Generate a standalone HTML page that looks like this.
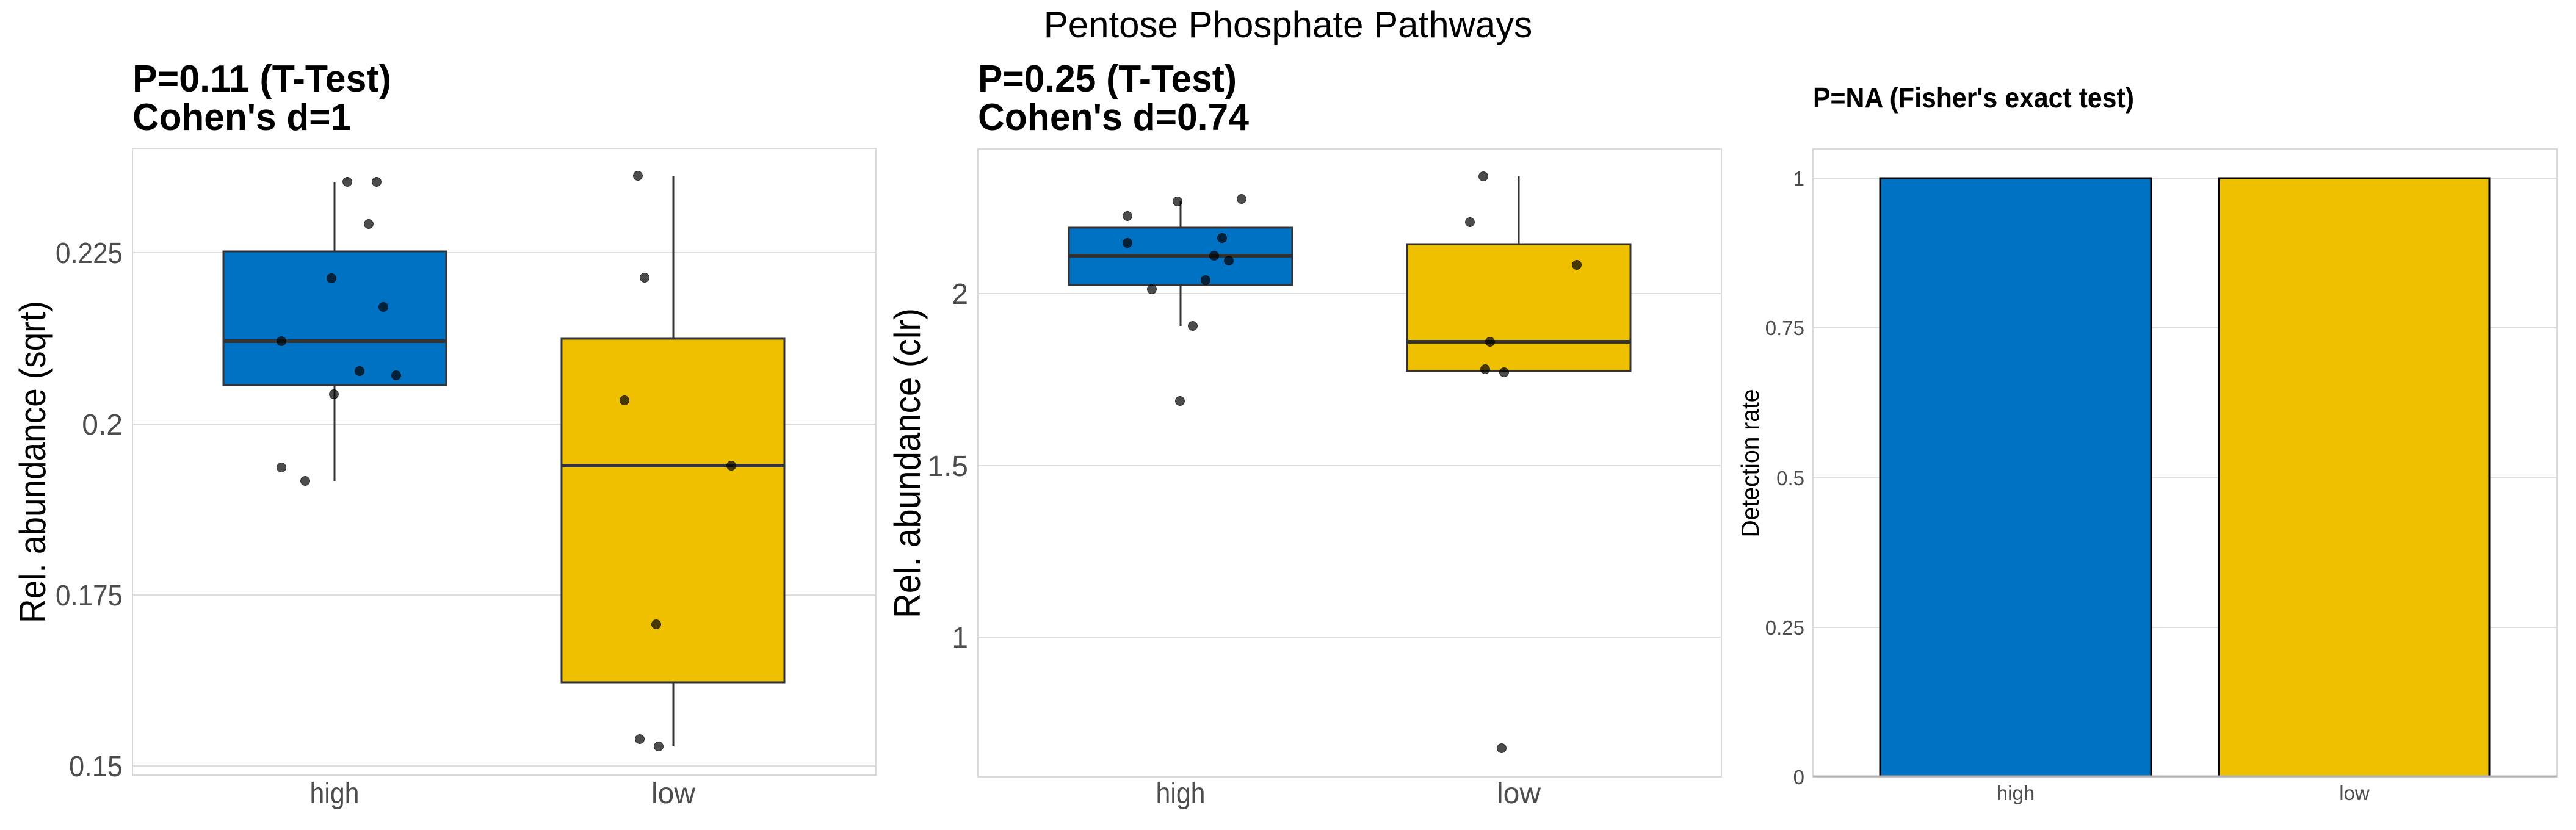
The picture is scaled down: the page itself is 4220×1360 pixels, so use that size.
<!DOCTYPE html>
<html><head><meta charset="utf-8"><style>
html,body{margin:0;padding:0;background:#fff;}
svg{display:block;}
text{font-family:"Liberation Sans",Arial,sans-serif;}
</style></head><body>
<svg width="4220" height="1360" viewBox="0 0 4220 1360" xmlns="http://www.w3.org/2000/svg">
<rect width="4220" height="1360" fill="#fff"/>
<text x="2110" y="61" font-size="60" text-anchor="middle" fill="#000">Pentose Phosphate Pathways</text>

<!-- Panel 1 -->
<g>
<text x="217" y="150" font-size="62" font-weight="bold" textLength="424" lengthAdjust="spacingAndGlyphs">P=0.11 (T-Test)</text>
<text x="217" y="213" font-size="62" font-weight="bold" textLength="358" lengthAdjust="spacingAndGlyphs">Cohen's d=1</text>
<rect x="217" y="243" width="1218" height="1027" fill="none" stroke="#d9d9d9" stroke-width="2"/>
<g stroke="#dedede" stroke-width="2">
<line x1="217" x2="1435" y1="414" y2="414"/><line x1="217" x2="1435" y1="695" y2="695"/>
<line x1="217" x2="1435" y1="975" y2="975"/><line x1="217" x2="1435" y1="1255" y2="1255"/>
</g>
<g font-size="48" fill="#4d4d4d" text-anchor="end">
<text x="201" y="431" textLength="110" lengthAdjust="spacingAndGlyphs">0.225</text><text x="201" y="712">0.2</text>
<text x="201" y="992" textLength="110" lengthAdjust="spacingAndGlyphs">0.175</text><text x="201" y="1272" textLength="88" lengthAdjust="spacingAndGlyphs">0.15</text>
</g>
<text transform="translate(74,757) rotate(-90)" font-size="60" text-anchor="middle" textLength="528" lengthAdjust="spacingAndGlyphs">Rel. abundance (sqrt)</text>
<g stroke="#333" stroke-width="3">
<line x1="548" x2="548" y1="298" y2="788"/><line x1="1103" x2="1103" y1="288" y2="1223"/>
</g>
<rect x="366" y="412" width="365" height="219" fill="#0072c4" stroke="#333" stroke-width="3"/>
<line x1="366" x2="731" y1="559" y2="559" stroke="#333" stroke-width="6"/>
<rect x="920" y="555" width="365" height="563" fill="#efc000" stroke="#333" stroke-width="3"/>
<line x1="920" x2="1285" y1="763" y2="763" stroke="#333" stroke-width="6"/>
<g fill="#000" fill-opacity="0.7" stroke="#000" stroke-opacity="0.7" stroke-width="1">
<circle cx="569" cy="298" r="7.5"/><circle cx="617" cy="298" r="7.5"/><circle cx="604" cy="367" r="7.5"/>
<circle cx="543" cy="456" r="7.5"/><circle cx="628" cy="503" r="7.5"/><circle cx="461" cy="559" r="7.5"/>
<circle cx="589" cy="608" r="7.5"/><circle cx="649" cy="615" r="7.5"/><circle cx="547" cy="646" r="7.5"/>
<circle cx="461" cy="766" r="7.5"/><circle cx="500" cy="788" r="7.5"/>
<circle cx="1045" cy="288" r="7.5"/><circle cx="1056" cy="455" r="7.5"/><circle cx="1023" cy="656" r="7.5"/>
<circle cx="1198" cy="763" r="7.5"/><circle cx="1075" cy="1023" r="7.5"/><circle cx="1048" cy="1211" r="7.5"/>
<circle cx="1079" cy="1223" r="7.5"/>
</g>
<g font-size="48" fill="#4d4d4d" text-anchor="middle">
<text x="548" y="1316" textLength="81" lengthAdjust="spacingAndGlyphs">high</text><text x="1103" y="1316">low</text>
</g>
</g>

<!-- Panel 2 -->
<g>
<text x="1602" y="150" font-size="62" font-weight="bold" textLength="424" lengthAdjust="spacingAndGlyphs">P=0.25 (T-Test)</text>
<text x="1602" y="213" font-size="62" font-weight="bold" textLength="444" lengthAdjust="spacingAndGlyphs">Cohen's d=0.74</text>
<rect x="1602" y="244" width="1218" height="1029" fill="none" stroke="#d9d9d9" stroke-width="2"/>
<g stroke="#dedede" stroke-width="2">
<line x1="1602" x2="2820" y1="481" y2="481"/><line x1="1602" x2="2820" y1="763" y2="763"/>
<line x1="1602" x2="2820" y1="1044" y2="1044"/>
</g>
<g font-size="48" fill="#4d4d4d" text-anchor="end">
<text x="1586" y="498">2</text><text x="1586" y="780">1.5</text><text x="1586" y="1061">1</text>
</g>
<text transform="translate(1507,759) rotate(-90)" font-size="60" text-anchor="middle" textLength="508" lengthAdjust="spacingAndGlyphs">Rel. abundance (clr)</text>
<g stroke="#333" stroke-width="3">
<line x1="1934" x2="1934" y1="330" y2="534"/><line x1="2488" x2="2488" y1="289" y2="400"/>
</g>
<rect x="1751" y="373" width="366" height="94" fill="#0072c4" stroke="#333" stroke-width="3"/>
<line x1="1751" x2="2117" y1="419" y2="419" stroke="#333" stroke-width="6"/>
<rect x="2305" y="400" width="366" height="208" fill="#efc000" stroke="#333" stroke-width="3"/>
<line x1="2305" x2="2671" y1="560" y2="560" stroke="#333" stroke-width="6"/>
<g fill="#000" fill-opacity="0.7" stroke="#000" stroke-opacity="0.7" stroke-width="1">
<circle cx="1847" cy="354" r="7.5"/><circle cx="1929" cy="330" r="7.5"/><circle cx="2034" cy="326" r="7.5"/>
<circle cx="1847" cy="398" r="7.5"/><circle cx="2002" cy="390" r="7.5"/><circle cx="1989" cy="419" r="7.5"/>
<circle cx="2013" cy="427" r="7.5"/><circle cx="1975" cy="459" r="7.5"/><circle cx="1887" cy="474" r="7.5"/>
<circle cx="1954" cy="534" r="7.5"/><circle cx="1933" cy="657" r="7.5"/>
<circle cx="2430" cy="289" r="7.5"/><circle cx="2408" cy="364" r="7.5"/><circle cx="2583" cy="434" r="7.5"/>
<circle cx="2441" cy="560" r="7.5"/><circle cx="2433" cy="605" r="7.5"/><circle cx="2464" cy="610" r="7.5"/>
<circle cx="2460" cy="1226" r="7.5"/>
</g>
<g font-size="48" fill="#4d4d4d" text-anchor="middle">
<text x="1934" y="1316" textLength="81" lengthAdjust="spacingAndGlyphs">high</text><text x="2488" y="1316">low</text>
</g>
</g>

<!-- Panel 3 -->
<g>
<text x="2970" y="176" font-size="46" font-weight="bold" textLength="526" lengthAdjust="spacingAndGlyphs">P=NA (Fisher's exact test)</text>
<rect x="2970" y="244" width="1219" height="1029" fill="none" stroke="#d9d9d9" stroke-width="2"/>
<g stroke="#dedede" stroke-width="2">
<line x1="2970" x2="4189" y1="292" y2="292"/><line x1="2970" x2="4189" y1="537" y2="537"/>
<line x1="2970" x2="4189" y1="783" y2="783"/><line x1="2970" x2="4189" y1="1028" y2="1028"/>
</g>
<g font-size="33" fill="#4d4d4d" text-anchor="end">
<text x="2956" y="304">1</text><text x="2956" y="549">0.75</text><text x="2956" y="795">0.5</text>
<text x="2956" y="1040">0.25</text><text x="2956" y="1285">0</text>
</g>
<text transform="translate(2881,759) rotate(-90)" font-size="41" text-anchor="middle" textLength="243" lengthAdjust="spacingAndGlyphs">Detection rate</text>
<rect x="3080" y="292" width="444" height="980" fill="#0072c4" stroke="#000" stroke-width="3"/>
<rect x="3635" y="292" width="443" height="980" fill="#efc000" stroke="#000" stroke-width="3"/>
<line x1="2970" x2="4189" y1="1272" y2="1272" stroke="#b3b3b3" stroke-width="3"/>
<g font-size="33" fill="#4d4d4d" text-anchor="middle">
<text x="3302" y="1311">high</text><text x="3857" y="1311">low</text>
</g>
</g>
</svg>
</body></html>
